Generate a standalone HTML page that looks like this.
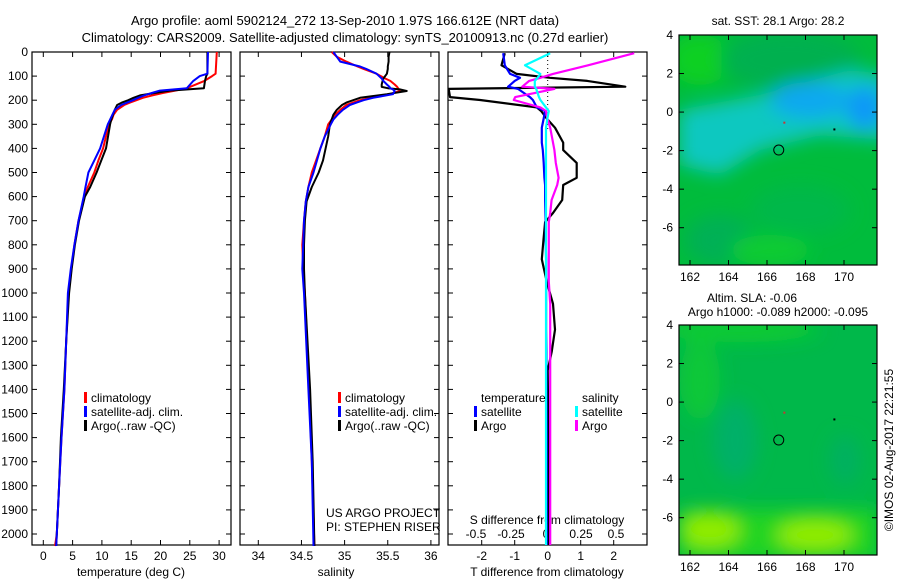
<!DOCTYPE html>
<html><head><meta charset="utf-8"><style>
body{margin:0;background:#fff}
svg{display:block;font-family:"Liberation Sans",sans-serif;font-size:12px}
</style></head><body>
<svg id="fig" width="900" height="580" viewBox="0 0 900 580">
<defs>
<filter id="bl" x="-50%" y="-50%" width="200%" height="200%"><feGaussianBlur stdDeviation="9"/></filter>
<clipPath id="m1c"><rect x="679" y="35" width="198" height="230"/></clipPath>
<clipPath id="m2c"><rect x="679" y="325" width="198" height="230"/></clipPath>
<clipPath id="p3c"><rect x="448" y="52" width="199" height="493"/></clipPath>
</defs>
<text x="345" y="25" text-anchor="middle" font-size="13">Argo profile: aoml 5902124_272 13-Sep-2010 1.97S 166.612E (NRT data)</text>
<text x="345" y="42" text-anchor="middle" font-size="13">Climatology: CARS2009. Satellite-adjusted climatology: synTS_20100913.nc (0.27d earlier)</text>

<g clip-path="url(#m1c)">
<rect x="679" y="35" width="198" height="230" fill="#00bc3c"/>
<g filter="url(#bl)">
<ellipse cx="700" cy="60" rx="30" ry="25" fill="#10d020"/>
<ellipse cx="790" cy="60" rx="70" ry="30" fill="#00b050"/>
<path d="M679 110 L760 95 L850 70 L890 75 L890 140 L820 135 L760 150 L720 175 L679 165Z" fill="#10c8c0"/>
<ellipse cx="810" cy="100" rx="40" ry="18" fill="#0aa8f0"/>
<ellipse cx="865" cy="108" rx="18" ry="22" fill="#0898f8"/>
<ellipse cx="720" cy="240" rx="35" ry="25" fill="#00b055"/>
<ellipse cx="800" cy="210" rx="50" ry="25" fill="#00b848"/>
<ellipse cx="770" cy="250" rx="40" ry="15" fill="#10cc30"/>
</g>
</g>
<g clip-path="url(#m2c)">
<rect x="679" y="325" width="198" height="230" fill="#00b84a"/>
<g filter="url(#bl)">
<ellipse cx="740" cy="330" rx="80" ry="12" fill="#10cc30"/>
<ellipse cx="735" cy="440" rx="22" ry="40" fill="#00b068"/>
<ellipse cx="845" cy="460" rx="15" ry="25" fill="#00b060"/>
<ellipse cx="700" cy="380" rx="20" ry="40" fill="#10c838"/>
<rect x="679" y="510" width="198" height="50" fill="#20d420"/>
<ellipse cx="710" cy="530" rx="30" ry="18" fill="#90ec00"/>
<ellipse cx="815" cy="535" rx="38" ry="16" fill="#90ec00"/>
</g>
</g>
<text x="778" y="25" text-anchor="middle">sat. SST: 28.1 Argo: 28.2</text>
<text x="752" y="302" text-anchor="middle">Altim. SLA: -0.06</text>
<text x="778" y="316" text-anchor="middle">Argo h1000: -0.089 h2000: -0.095</text>
<text transform="translate(893,450) rotate(-90)" text-anchor="middle">©IMOS 02-Aug-2017 22:21:55</text>
<g id="plots"></g>
</svg>
<script>
// depth values (m) and series per panel
const tDepth=[0,90,100,120,150,160,170,180,190,200,210,220,240,260,280,300,400,450,500,560,600,700,800,900,1000,1200,1400,1600,1800,2000,2050];
const tClim=[29.6,29.4,28.8,27.5,24.5,22.5,20.4,18.6,17,15.9,14.8,13.8,12.6,12.0,11.7,11.2,10.2,9.4,8.7,7.6,7.0,6.0,5.3,4.8,4.3,3.9,3.6,3.1,2.7,2.3,2.0];
const tSat=[28.1,28.0,26.7,25.6,24.5,19.9,18.5,17.2,16.2,15.3,14.3,13.3,12.2,11.8,11.4,11.0,9.7,8.7,7.7,7.2,6.9,6.0,5.3,4.7,4.2,3.9,3.6,3.1,2.7,2.3,2.2];
const tArgo=[28.0,28.0,27.8,27.6,27.4,21.6,19.0,16.5,15.4,14.5,13.4,12.6,12.2,11.9,11.6,11.4,10.7,9.9,9.1,8.0,7.1,6.1,5.4,4.85,4.4,3.9,3.5,3.0,2.7,2.3,2.2];
const sDepth=[0,20,40,60,70,90,110,120,135,145,150,155,162,175,190,200,210,220,240,260,280,300,350,400,450,500,560,620,700,800,900,1000,1400,1700,2050];
const sClim=[34.85,34.91,35.02,35.15,35.22,35.37,35.47,35.53,35.58,35.61,35.62,35.63,35.64,35.52,35.3,35.18,35.1,35.02,34.95,34.89,34.85,34.81,34.77,34.72,34.67,34.62,34.58,34.55,34.53,34.51,34.52,34.54,34.59,34.62,34.65];
const sSat=[34.87,34.91,34.95,35.18,35.25,35.37,35.43,35.45,35.49,35.52,35.53,35.56,35.58,35.56,35.33,35.22,35.14,35.06,34.98,34.92,34.87,34.84,34.77,34.72,34.68,34.64,34.58,34.55,34.53,34.52,34.51,34.53,34.58,34.62,34.64];
const sArgo=[35.52,35.51,35.51,35.50,35.50,35.49,35.45,35.44,35.43,35.43,35.5,35.64,35.72,35.49,35.18,35.1,35.02,34.97,34.91,34.87,34.85,34.83,34.81,34.78,34.75,34.70,34.62,34.56,34.54,34.53,34.53,34.54,34.6,34.63,34.65];
const dDepth=[5,55,91,107,120,144,153,187,199,230,245,276,314,376,407,460,522,552,614,668,706,783,860,952,1045,1152,1244,1321,1600,2050];
const dTsat=[-1.35,-1.3,-1.14,-0.84,-1.0,-1.2,-0.9,-0.54,-0.45,-0.33,-0.08,-0.12,-0.18,-0.18,-0.15,-0.12,-0.1,-0.08,-0.08,-0.07,-0.06,-0.06,-0.05,-0.05,-0.05,-0.05,-0.04,-0.04,-0.03,-0.03];
const dTargo=[-1.3,-1.4,-0.94,0.07,1.2,2.35,-3,-2.96,-2.05,-0.33,-0.2,-0.03,0.22,0.47,0.47,0.88,0.88,0.47,0.44,0.16,-0.08,-0.13,-0.18,-0.03,0.16,0.22,0.12,0.0,0.02,0.03];
const dSsat=[0.03,-0.15,-0.04,-0.06,-0.08,-0.08,-0.07,-0.05,-0.04,0.0,0.02,0.01,0.0,0.0,0.0,0.0,0.0,0.0,0.0,0.0,0.0,0.0,0.0,0.0,0.0,0.0,0.0,0.0,0.0,0.0];
const dSargo=[0.63,0.3,0.05,-0.04,-0.12,-0.17,0.06,-0.22,-0.23,-0.04,0.0,0.01,0.03,0.05,0.06,0.07,0.09,0.08,0.04,0.03,0.02,0.02,0.02,0.02,0.03,0.03,0.03,0.03,0.03,0.03];
const depthTicks=[0,100,200,300,400,500,600,700,800,900,1000,1100,1200,1300,1400,1500,1600,1700,1800,1900,2000];
const tTicks=[0,5,10,15,20,25,30];
const sTicks=[34,34.5,35,35.5,36];
const dTTicks=[-2,-1,0,1,2];
const dSTicks=[-0.5,-0.25,0,0.25,0.5];
const latTicks=[4,2,0,-2,-4,-6];
const lonTicks=[162,164,166,168,170];

const NS='http://www.w3.org/2000/svg';
const G=document.getElementById('plots');
function mk(tag,at,par){const e=document.createElementNS(NS,tag);for(const k in at)e.setAttribute(k,at[k]);(par||G).appendChild(e);return e;}
const top0=52,bot=545;
const yD=d=>top0+d*0.241;
const xT=v=>43.3+v*5.86;
const xS=v=>258.3+(v-34)*86.3;
const xDT=v=>547.7+v*33;
const xDS=v=>546+v*140;
const xLon=v=>690+(v-162)*19.25;
const yLat1=v=>35+(4-v)*19.27;
const yLat2=v=>325+(4-v)*19.27;

function frame(x0,x1,name){
  const r=mk('rect',{x:x0,y:top0,width:x1-x0,height:bot-top0,fill:'none',stroke:'#000','stroke-width':1.2});
  
  
  depthTicks.forEach(d=>{const y=yD(d);
    mk('line',{x1:x0,x2:x0+5,y1:y,y2:y,stroke:'#000'});
    mk('line',{x1:x1-5,x2:x1,y1:y,y2:y,stroke:'#000'});});
}
function xticks(arr,f,x0,x1,labY,dec){
  arr.forEach(v=>{const x=f(v);
    mk('line',{x1:x,x2:x,y1:bot,y2:bot-5,stroke:'#000'});
    mk('line',{x1:x,x2:x,y1:top0,y2:top0+5,stroke:'#000'});
    const t=mk('text',{x:x,y:labY,'text-anchor':'middle'});t.textContent=String(v);
    
    });
}
function line(xs,ds,fx,col,name,w,clip){
  const pts=xs.map((v,i)=>fx(v).toFixed(1)+','+yD(ds[i]).toFixed(1)).join(' ');
  const p=mk('polyline',{points:pts,fill:'none',stroke:col,'stroke-width':w||2,'stroke-linejoin':'round'});
  if(clip)p.setAttribute('clip-path',clip);
  
  
}
function legend(x,y,col,txt){
  mk('rect',{x:x,y:y-10,width:3,height:11,fill:col});
  const t=mk('text',{x:x+7,y:y});t.textContent=txt;
  
  
}
function label(x,y,txt,name,anchor){const t=mk('text',{x:x,y:y,'text-anchor':anchor||'middle'});t.textContent=txt;
  
  }

// Panel 1
frame(32,231,'temperature-axes');
depthTicks.forEach(d=>label(28,yD(d)+4,String(d),'depth-tick-label','end'));
xticks(tTicks,xT,32,231,560);
label(131,576,'temperature (deg C)','temperature-axis-title');
line(tClim,tDepth,xT,'#f00','temperature-climatology-line');
line(tArgo,tDepth,xT,'#000','temperature-argo-line');
line(tSat,tDepth,xT,'#00f','temperature-satellite-line');
legend(84,402,'#f00','climatology');legend(84,416,'#00f','satellite-adj. clim.');legend(84,430,'#000','Argo(..raw -QC)');

// Panel 2
frame(240,439,'salinity-axes');
xticks(sTicks,xS,240,439,560);
label(336,576,'salinity','salinity-axis-title');
line(sClim,sDepth,xS,'#f00','salinity-climatology-line');
line(sArgo,sDepth,xS,'#000','salinity-argo-line');
line(sSat,sDepth,xS,'#00f','salinity-satellite-line');
legend(338,402,'#f00','climatology');legend(338,416,'#00f','satellite-adj. clim.');legend(338,430,'#000','Argo(..raw -QC)');
label(326,517,'US ARGO PROJECT','project-label','start');
label(326,531,'PI: STEPHEN RISER','pi-label','start');

// Panel 3
frame(448,647,'difference-axes');
mk('line',{x1:xDT(0),x2:xDT(0),y1:top0,y2:yD(320),stroke:'#000','stroke-dasharray':'1,3'});
xticks(dTTicks,xDT,448,647,560);
dSTicks.forEach(v=>label(xDS(v),538,String(v),'s-diff-tick-label'));
label(547,524,'S difference from climatology','s-diff-axis-title');
label(547,576,'T difference from climatology','t-diff-axis-title');
line(dTargo,dDepth,xDT,'#000','t-diff-argo-line',2.2,'url(#p3c)');
line(dTsat,dDepth,xDT,'#00f','t-diff-satellite-line',2.2,'url(#p3c)');
line(dSargo,dDepth,xDS,'#f0f','s-diff-argo-line',2.2,'url(#p3c)');
line(dSsat,dDepth,xDS,'#0ff','s-diff-satellite-line',2.2,'url(#p3c)');
label(481,402,'temperature','legend-temperature-heading','start');
label(582,402,'salinity','legend-salinity-heading','start');
legend(474,416,'#00f','satellite');legend(474,430,'#000','Argo');
legend(575,416,'#0ff','satellite');legend(575,430,'#f0f','Argo');

// Maps
[[yLat1,35,265,'sst-map-frame'],[yLat2,325,555,'sla-map-frame']].forEach(([fy,y0,y1,nm])=>{
  const r=mk('rect',{x:679,y:y0,width:198,height:y1-y0,fill:'none',stroke:'#000','stroke-width':1.2});
  
  
  latTicks.forEach(v=>{const y=fy(v);
    mk('line',{x1:679,x2:684,y1:y,y2:y,stroke:'#000'});mk('line',{x1:872,x2:877,y1:y,y2:y,stroke:'#000'});
    label(673,y+4,String(v),'lat-tick-label','end');});
  lonTicks.forEach(v=>{const x=xLon(v);
    mk('line',{x1:x,x2:x,y1:y0,y2:y0+5,stroke:'#000'});mk('line',{x1:x,x2:x,y1:y1,y2:y1-5,stroke:'#000'});
    label(x,y1+16,String(v),'lon-tick-label');});
  const c=mk('circle',{cx:xLon(166.61),cy:fy(-1.97),r:5,fill:'none',stroke:'#000','stroke-width':1});
  
  
  mk('rect',{x:xLon(166.9)-1,y:fy(-0.55)-1,width:2,height:2,fill:'#c33'});
  mk('rect',{x:xLon(169.5)-1,y:fy(-0.9)-1,width:2,height:2,fill:'#000'});
});
</script>
</body></html>
